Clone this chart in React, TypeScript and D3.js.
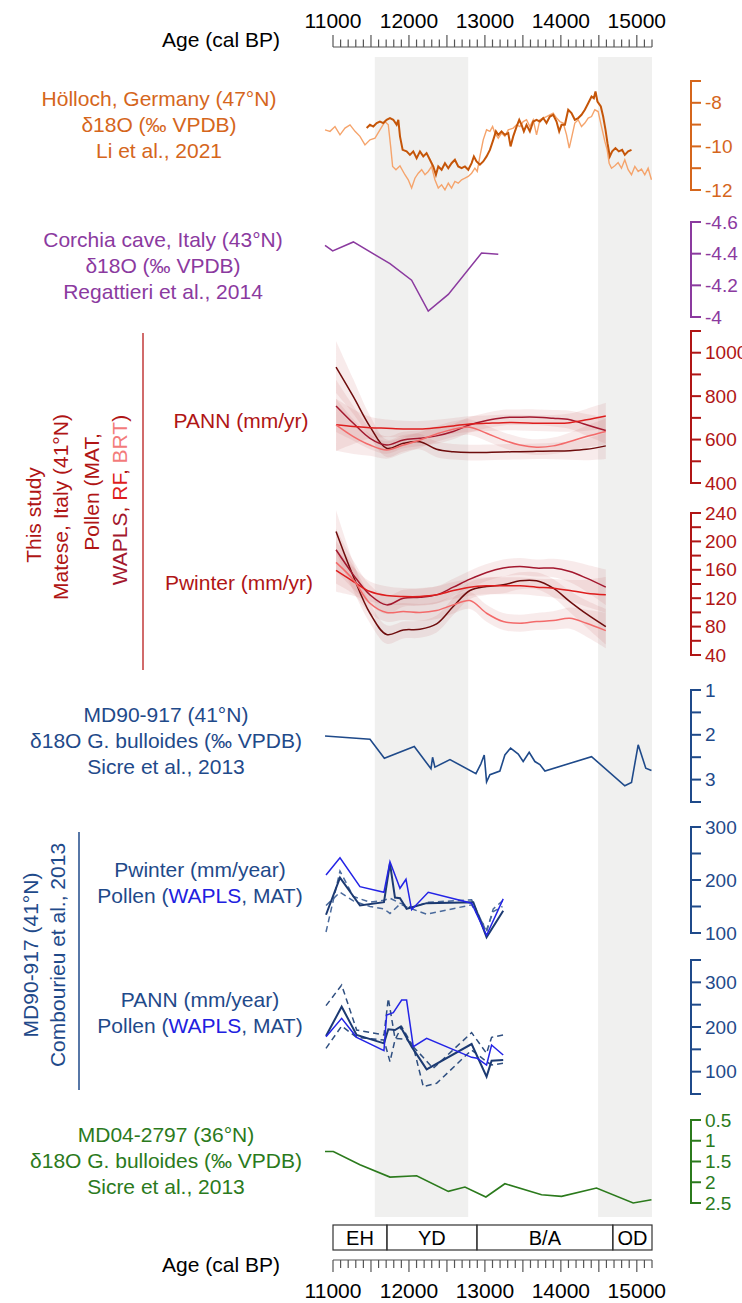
import * as d3 from "d3";

const FONT = "'Liberation Sans', Arial, sans-serif";

// Age axis
const ageTicks = d3.range(11000, 15201, 100);
const ageLabels = [11000, 12000, 13000, 14000, 15000];
const shadeStart = [11550, 14490];
const shadeEnd = [12780, 15200];
const zoneNames = ["EH", "YD", "B/A", "OD"];
const zoneBounds = [11000, 11710, 12895, 14684, 15200];

// Hölloch (Li et al., 2021)
const holLightAge = [10895,10961,11026,11092,11158,11224,11290,11355,11421,11487,11553,11618,11684,11728,11759,11785,11829,11882,11947,11991,12035,12079,12123,12167,12211,12254,12298,12342,12386,12430,12474,12518,12561,12605,12649,12693,12737,12781,12825,12868,12899,12934,12978,13022,13066,13101,13132,13176,13219,13263,13307,13373,13417,13461,13504,13548,13592,13636,13680,13724,13768,13811,13855,13899,13943,13987,14031,14075,14110,14140,14184,14228,14272,14316,14360,14404,14447,14491,14535,14579,14610,14636,14667,14711,14754,14798,14842,14886,14930,14974,15018,15061,15105,15149,15193];
const holLightD18O = [-9.24,-9.31,-9.09,-9.47,-9.16,-9.01,-9.31,-9.54,-9.93,-9.7,-9.62,-9.24,-8.86,-9.01,-10.0,-10.92,-11.07,-10.89,-11.3,-11.53,-11.91,-11.46,-11.23,-11.07,-11.3,-11.15,-10.92,-11.53,-11.91,-11.76,-11.99,-11.69,-11.91,-11.61,-11.69,-11.53,-11.46,-11.38,-11.23,-11.0,-11.15,-10.46,-9.7,-9.24,-9.31,-9.09,-9.39,-9.62,-9.39,-9.54,-9.24,-9.16,-9.01,-9.09,-8.86,-8.78,-9.09,-8.78,-9.47,-8.78,-8.7,-8.63,-8.55,-8.47,-8.7,-8.86,-8.93,-9.47,-10.08,-9.62,-8.93,-8.78,-9.09,-8.93,-8.7,-8.63,-8.32,-8.4,-9.09,-9.77,-10.16,-10.77,-11.0,-10.89,-10.74,-11.0,-10.61,-11.07,-11.3,-10.92,-11.15,-11.04,-11.3,-11.0,-11.53];
const holDarkAge = [11443,11487,11531,11575,11618,11662,11706,11750,11794,11838,11860,11882,11917,11969,12013,12057,12101,12145,12189,12232,12276,12320,12355,12386,12430,12474,12518,12561,12605,12649,12693,12737,12781,12825,12855,12890,12934,12978,13022,13066,13110,13145,13176,13219,13263,13307,13338,13373,13417,13452,13483,13513,13548,13592,13636,13680,13724,13768,13811,13855,13899,13943,13978,14009,14053,14097,14140,14184,14228,14272,14316,14360,14404,14434,14456,14482,14526,14557,14588,14614,14645,14676,14719,14763,14807,14842,14886,14930];
const holDarkD18O = [-9.16,-9.01,-9.09,-8.93,-8.86,-8.93,-8.78,-8.7,-8.78,-9.01,-8.78,-9.54,-10.16,-10.23,-10.39,-10.23,-10.54,-10.23,-10.46,-10.31,-10.61,-10.92,-11.3,-10.92,-11.07,-10.77,-11.0,-10.77,-10.61,-10.92,-11.0,-10.92,-11.07,-10.77,-10.46,-10.69,-10.84,-10.69,-10.46,-10.16,-9.7,-9.31,-9.47,-9.31,-9.47,-9.39,-10.0,-9.54,-9.09,-8.78,-9.01,-9.31,-9.01,-9.31,-8.86,-8.78,-8.86,-8.7,-8.93,-8.63,-8.55,-8.86,-9.31,-9.01,-9.01,-8.32,-8.47,-8.78,-8.7,-8.55,-8.32,-8.02,-7.71,-7.79,-7.48,-7.94,-8.17,-8.63,-9.24,-9.85,-10.46,-10.23,-10.08,-10.23,-10.16,-10.39,-10.23,-10.16];
const holTicks = [-7, -8, -9, -10, -11, -12];
const holLabels = [-8, -10, -12];

// Corchia (Regattieri et al., 2014)
const corAge = [10895, 10996, 11268, 11750, 12035, 12254, 12518, 12956, 13176];
const corD18O = [-4.453, -4.417, -4.474, -4.337, -4.232, -4.038, -4.143, -4.404, -4.396];
const corTicks = [-4.6, -4.4, -4.2, -4];

// Matese (this study)
const mateseAge = [11040,11268,11487,11706,11926,12145,12364,12583,12803,13022,13241,13461,13680,13899,14119,14338,14592];
const pannMAT = [934,798,660,560,583,590,555,544,540,541,543,544,546,547,549,555,571];
const pannWAPLS = [755,675,606,575,598,606,617,637,668,688,701,703,703,698,691,668,642];
const pannRF = [668,660,655,652,649,649,655,663,672,675,678,678,675,675,678,691,709];
const pannBRT = [668,614,575,552,575,598,626,648,657,629,598,575,565,571,591,614,637];
const pannErr = [120,80,50,40,38,36,36,36,36,36,36,36,36,38,42,50,60];
const pwinMAT = [214,150.6,98.8,68.8,75.3,76.2,83.7,108.2,130.8,136.5,138.8,144.5,144.5,134.1,115.3,97.9,80];
const pwinWAPLS = [188.2,152.9,124.7,110.6,120,121.4,124.7,135.5,146.8,156.2,162.4,164.7,162.4,162.4,157.6,148.2,135.5];
const pwinRF = [159.1,143.5,129.4,123.8,122.4,122.4,124.7,130.8,135.5,137.4,137.4,137.4,135.5,134.1,130.8,127.1,124.7];
const pwinBRT = [170.4,145.9,112.9,99.8,101.2,99.8,102.6,110.6,116.7,98.8,87.1,84.7,87.1,88.5,91.8,84.7,74.4];
const pwinErr = [30,20,14,13,12,12,12,12,12,12,12,12,12,13,15,19,25];
const pannTicks = [400, 500, 600, 700, 800, 900, 1000, 1100];
const pannLabels = [400, 600, 800, 1000];
const pwinTicks = [40, 60, 80, 100, 120, 140, 160, 180, 200, 220, 240];
const pwinLabels = [40, 80, 120, 160, 200, 240];

// MD90-917 d18O (Sicre et al., 2013)
const md90Age = [10895,11487,11676,12070,12290,12311,12342,12540,12882,12947,12991,13022,13066,13197,13263,13338,13439,13504,13583,13658,13724,13790,14404,14842,14930,15018,15118,15193];
const md90D18O = [2.026,2.099,2.524,2.26,2.758,2.502,2.722,2.553,2.868,2.648,2.451,3.051,2.89,2.81,2.451,2.297,2.429,2.597,2.392,2.597,2.663,2.81,2.487,3.139,3.066,2.223,2.744,2.795];
const md90Ticks = [1, 1.5, 2, 2.5, 3, 3.5];
const md90Labels = [1, 2, 3];

// MD90-917 pollen (Combourieu et al., 2013)
const cpwWaplsAge = [10908,11092,11355,11671,11750,11882,11961,12035,12254,12825,13022,13241];
const cpwWapls = [209.4,241.9,187.5,176.9,234.4,184.4,201.3,143.8,176.9,156.3,95.6,164.4];
const cpwMatAge = [10908,11092,11355,11671,11750,11816,11882,11969,12233,12847,13022,13241];
const cpwMat = [134.4,204.4,151.9,158.1,231.3,166.9,165.6,145.6,156.3,158.1,91.9,141.9];
const cpwLoAge = [10908,11092,11268,11487,11671,11750,11882,12035,12254,12825,13022,13110,13232];
const cpwLo = [101.9,216.9,168.8,158.1,161.9,165.6,156.3,148.1,158.1,162.5,101.9,145.6,160.6];
const cpwHiAge = [10908,11092,11268,11487,11671,11750,11882,12035,12233,12825,13022,13110,13232];
const cpwHi = [151.9,176.9,160.6,150,145.6,136.9,154.4,145.6,135.6,153.1,106.3,140.6,150];
const cpwTicks = [100, 150, 200, 250, 300];
const cpwLabels = [100, 200, 300];

const cpaWaplsAge = [10908,11114,11311,11671,11706,11794,11904,11969,12057,12233,12825,12899,13022,13088,13241];
const cpaWapls = [178.4,219.4,176.9,147,226.9,232.1,260.4,260.4,156,174.6,132.1,129.9,114.9,159.7,137.3];
const cpaMatAge = [10908,11114,11311,11671,11728,11816,11890,12035,12233,12825,13022,13088,13241];
const cpaMat = [179.9,245.5,182.1,163.4,194.8,193.3,200.7,156,105.2,161.9,88.8,124.6,126.1];
const cpaUpAge = [10908,11114,11311,11671,11728,11816,11969,12057,12320,12825,13022,13088,13241];
const cpaUp = [247.8,294,193.3,182.1,264.2,174.6,172.4,156,107.5,187.3,141,176.9,182.1];
const cpaLoAge = [10908,11114,11311,11671,11750,11816,11904,12057,12189,12364,12825,13022,13088,13241];
const cpaLo = [152.2,202.2,176.9,170.9,122.4,170.9,200.7,156,66.4,73.9,148.5,122.4,115,118.7];
const cpaTicks = [50, 100, 150, 200, 250, 300, 350];
const cpaLabels = [100, 200, 300];

// MD04-2797 d18O (Sicre et al., 2013)
const md04Age = [10895,11004,11355,11750,12101,12518,12737,13013,13263,13746,14009,14469,14952,15193];
const md04D18O = [1.26,1.26,1.58,1.876,1.844,2.22,2.116,2.356,2.036,2.3,2.34,2.14,2.5,2.42];
const md04Ticks = [0.5, 1, 1.5, 2, 2.5];

const ORANGE = "#d5661c";
const PURPLE = "#8b3a9f";
const RED = "#b01515";
const NAVY = "#1f4a8a";
const GREEN = "#2b7a1c";

type Scale = d3.ScaleLinear<number, number>;

function RightAxis({ y, ticks, labels, color }: { y: Scale; ticks: number[]; labels: number[]; color: string }) {
  const [a, b] = y.domain();
  return (
    <g>
      <line x1={691} x2={691} y1={y(a)} y2={y(b)} stroke={color} strokeWidth={2} />
      {ticks.map((t) => (
        <line key={t} x1={690} x2={701} y1={y(t)} y2={y(t)} stroke={color} strokeWidth={2} />
      ))}
      {labels.map((t) => (
        <text key={t} x={705} y={y(t)} dominantBaseline="central" fill={color} fontSize={19}>
          {String(t)}
        </text>
      ))}
    </g>
  );
}

function Lines({ lines, cx, cy, color }: { lines: string[]; cx: number; cy: number; color: string }) {
  return (
    <text textAnchor="middle" fill={color} fontSize={21}>
      {lines.map((l, i) => (
        <tspan key={i} x={cx} y={cy + i * 26}>
          {l}
        </tspan>
      ))}
    </text>
  );
}

export default function App() {
  const x = d3.scaleLinear().domain([11000, 15200]).range([333, 652]);

  const yHol = d3.scaleLinear().domain([-12, -7]).range([190, 81]);
  const yCor = d3.scaleLinear().domain([-4.6, -4]).range([222, 317]);
  const yPann = d3.scaleLinear().domain([400, 1100]).range([483, 331]);
  const yPwin = d3.scaleLinear().domain([40, 240]).range([655, 513]);
  const yMd90 = d3.scaleLinear().domain([1, 3.5]).range([690, 802]);
  const yCpw = d3.scaleLinear().domain([100, 300]).range([933, 827]);
  const yCpa = d3.scaleLinear().domain([50, 350]).range([1094, 960]);
  const yMd04 = d3.scaleLinear().domain([0.5, 2.5]).range([1120, 1203]);

  const path = (ys: Scale, ages: number[], vals: number[], curve: d3.CurveFactory = d3.curveLinear) =>
    d3
      .line<[number, number]>()
      .x((d) => x(d[0]))
      .y((d) => ys(d[1]))
      .curve(curve)(d3.zip(ages, vals) as [number, number][]) || "";

  const smooth = d3.curveCatmullRom.alpha(0.5);

  const ribbon = (ys: Scale, vals: number[], err: number[]) =>
    d3
      .area<number>()
      .x((_, i) => x(mateseAge[i]))
      .y0((d, i) => ys(d - err[i]))
      .y1((d, i) => ys(d + err[i]))
      .curve(smooth)(vals) || "";

  const mateseColors = ["#6e0c0c", "#a3182e", "#de1d1d", "#f36a6a"];
  const pannSeries = [pannMAT, pannWAPLS, pannRF, pannBRT];
  const pwinSeries = [pwinMAT, pwinWAPLS, pwinRF, pwinBRT];

  return (
    <svg
      width={742}
      height={1303}
      style={{ position: "absolute", left: 0, top: 0, background: "#fff" }}
      fontFamily={FONT}
    >
      {/* shaded periods */}
      {shadeStart.map((s, i) => (
        <rect key={i} x={x(s)} y={57} width={x(shadeEnd[i]) - x(s)} height={1160} fill="#f0f0ef" />
      ))}

      {/* top age axis */}
      <text x={280} y={47} textAnchor="end" fontSize={21} fill="#000">
        Age (cal BP)
      </text>
      <line x1={x(11000)} x2={x(15200)} y1={47} y2={47} stroke="#555" strokeWidth={1.2} />
      {ageTicks.map((t) => (
        <line key={t} x1={x(t)} x2={x(t)} y1={47} y2={t % 500 === 0 ? 35 : 39.5} stroke="#555" strokeWidth={1.2} />
      ))}
      {ageLabels.map((t) => (
        <text key={t} x={x(t)} y={28} textAnchor="middle" fontSize={21} fill="#000">
          {t}
        </text>
      ))}

      {/* Hölloch */}
      <Lines lines={["Hölloch, Germany (47°N)", "δ18O (‰ VPDB)", "Li et al., 2021"]} cx={159} cy={106} color={ORANGE} />
      <path d={path(yHol, holLightAge, holLightD18O)} fill="none" stroke="#f5a46c" strokeWidth={1.4} />
      <path d={path(yHol, holDarkAge, holDarkD18O)} fill="none" stroke="#c55508" strokeWidth={2} />
      <RightAxis y={yHol} ticks={holTicks} labels={holLabels} color={ORANGE} />

      {/* Corchia */}
      <Lines lines={["Corchia cave, Italy (43°N)", "δ18O (‰ VPDB)", "Regattieri et al., 2014"]} cx={163} cy={247} color={PURPLE} />
      <path d={path(yCor, corAge, corD18O)} fill="none" stroke={PURPLE} strokeWidth={1.5} />
      <RightAxis y={yCor} ticks={corTicks} labels={corTicks} color={PURPLE} />

      {/* Matese */}
      <g fontSize={21}>
        <text transform="translate(33,515) rotate(-90)" textAnchor="middle" dominantBaseline="central" fill={RED}>
          This study
        </text>
        <text transform="translate(60,507) rotate(-90)" textAnchor="middle" dominantBaseline="central" fill={RED}>
          Matese, Italy (41°N)
        </text>
        <text transform="translate(91,492) rotate(-90)" textAnchor="middle" dominantBaseline="central" fill={RED}>
          Pollen (MAT,
        </text>
        <text transform="translate(119,500) rotate(-90)" textAnchor="middle" dominantBaseline="central" fill={RED}>
          <tspan fill="#a3182e">WAPLS</tspan>
          <tspan fill={RED}>, </tspan>
          <tspan fill="#de1d1d">RF</tspan>
          <tspan fill={RED}>, </tspan>
          <tspan fill="#f37b7b">BRT</tspan>
          <tspan fill={RED}>)</tspan>
        </text>
      </g>
      <line x1={143} x2={143} y1={333} y2={670} stroke="#c23a3a" strokeWidth={1.5} />
      <text x={241} y={428} textAnchor="middle" fontSize={21} fill={RED}>
        PANN (mm/yr)
      </text>
      <text x={239} y={590} textAnchor="middle" fontSize={21} fill={RED}>
        Pwinter (mm/yr)
      </text>
      {pannSeries.map((s, i) => (
        <path key={"pr" + i} d={ribbon(yPann, s, pannErr)} fill="#c85a5a" opacity={0.12} />
      ))}
      {pannSeries.map((s, i) => (
        <path key={"pl" + i} d={path(yPann, mateseAge, s, smooth)} fill="none" stroke={mateseColors[i]} strokeWidth={1.5} />
      ))}
      {pwinSeries.map((s, i) => (
        <path key={"wr" + i} d={ribbon(yPwin, s, pwinErr)} fill="#c85a5a" opacity={0.12} />
      ))}
      {pwinSeries.map((s, i) => (
        <path key={"wl" + i} d={path(yPwin, mateseAge, s, smooth)} fill="none" stroke={mateseColors[i]} strokeWidth={1.5} />
      ))}
      <RightAxis y={yPann} ticks={pannTicks} labels={pannLabels} color={RED} />
      <RightAxis y={yPwin} ticks={pwinTicks} labels={pwinLabels} color={RED} />

      {/* MD90-917 d18O */}
      <Lines lines={["MD90-917 (41°N)", "δ18O G. bulloides (‰ VPDB)", "Sicre et al., 2013"]} cx={166} cy={722} color={NAVY} />
      <path d={path(yMd90, md90Age, md90D18O)} fill="none" stroke={NAVY} strokeWidth={1.6} />
      <RightAxis y={yMd90} ticks={md90Ticks} labels={md90Labels} color={NAVY} />

      {/* MD90-917 pollen */}
      <g fontSize={21}>
        <text transform="translate(30,955) rotate(-90)" textAnchor="middle" dominantBaseline="central" fill={NAVY}>
          MD90-917 (41°N)
        </text>
        <text transform="translate(57,955) rotate(-90)" textAnchor="middle" dominantBaseline="central" fill={NAVY}>
          Combourieu et al., 2013
        </text>
      </g>
      <line x1={79} x2={79} y1={832} y2={1090} stroke={NAVY} strokeWidth={1.5} />
      <Lines lines={["Pwinter (mm/year)"]} cx={200} cy={877} color={NAVY} />
      <text x={200} y={903} textAnchor="middle" fontSize={21} fill={NAVY}>
        Pollen (<tspan fill="#2020e0">WAPLS</tspan>, MAT)
      </text>
      <Lines lines={["PANN (mm/year)"]} cx={200} cy={1007} color={NAVY} />
      <text x={200} y={1033} textAnchor="middle" fontSize={21} fill={NAVY}>
        Pollen (<tspan fill="#2020e0">WAPLS</tspan>, MAT)
      </text>

      <path d={path(yCpw, cpwLoAge, cpwLo)} fill="none" stroke="#4a6a9c" strokeWidth={1.5} strokeDasharray="6,4" />
      <path d={path(yCpw, cpwHiAge, cpwHi)} fill="none" stroke="#4a6a9c" strokeWidth={1.5} strokeDasharray="6,4" />
      <path d={path(yCpw, cpwMatAge, cpwMat)} fill="none" stroke="#1c3a72" strokeWidth={2} />
      <path d={path(yCpw, cpwWaplsAge, cpwWapls)} fill="none" stroke="#2424e6" strokeWidth={1.5} />
      <RightAxis y={yCpw} ticks={cpwTicks} labels={cpwLabels} color={NAVY} />

      <path d={path(yCpa, cpaUpAge, cpaUp)} fill="none" stroke="#2f4f80" strokeWidth={1.5} strokeDasharray="6,4" />
      <path d={path(yCpa, cpaLoAge, cpaLo)} fill="none" stroke="#2f4f80" strokeWidth={1.5} strokeDasharray="6,4" />
      <path d={path(yCpa, cpaMatAge, cpaMat)} fill="none" stroke="#1c3a72" strokeWidth={2} />
      <path d={path(yCpa, cpaWaplsAge, cpaWapls)} fill="none" stroke="#2424e6" strokeWidth={1.5} />
      <RightAxis y={yCpa} ticks={cpaTicks} labels={cpaLabels} color={NAVY} />

      {/* MD04-2797 */}
      <Lines lines={["MD04-2797 (36°N)", "δ18O G. bulloides (‰ VPDB)", "Sicre et al., 2013"]} cx={166} cy={1142} color={GREEN} />
      <path d={path(yMd04, md04Age, md04D18O)} fill="none" stroke={GREEN} strokeWidth={1.6} />
      <RightAxis y={yMd04} ticks={md04Ticks} labels={md04Ticks} color={GREEN} />

      {/* zones */}
      {zoneNames.map((n, i) => (
        <g key={n}>
          <rect
            x={x(zoneBounds[i])}
            y={1225}
            width={x(zoneBounds[i + 1]) - x(zoneBounds[i])}
            height={25}
            fill="none"
            stroke="#333"
            strokeWidth={1.2}
          />
          <text
            x={(x(zoneBounds[i]) + x(zoneBounds[i + 1])) / 2}
            y={1245}
            textAnchor="middle"
            fontSize={20}
            fill="#000"
          >
            {n}
          </text>
        </g>
      ))}

      {/* bottom age axis */}
      <text x={280} y={1272} textAnchor="end" fontSize={21} fill="#000">
        Age (cal BP)
      </text>
      <line x1={x(11000)} x2={x(15200)} y1={1260} y2={1260} stroke="#555" strokeWidth={1.2} />
      {ageTicks.map((t) => (
        <line key={t} x1={x(t)} x2={x(t)} y1={1260} y2={t % 500 === 0 ? 1272 : 1268} stroke="#555" strokeWidth={1.2} />
      ))}
      {ageLabels.map((t) => (
        <text key={t} x={x(t)} y={1298} textAnchor="middle" fontSize={21} fill="#000">
          {t}
        </text>
      ))}
    </svg>
  );
}
